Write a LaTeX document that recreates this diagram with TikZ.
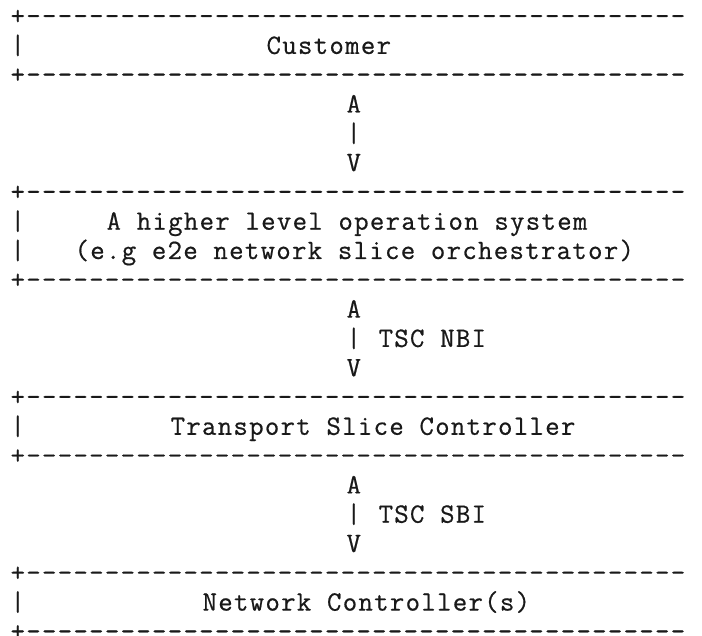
\documentclass[tikz,border=0pt]{standalone}
\usepackage{fontspec}
% typewriter face, spaced out to a 16pt character cell
\newfontfamily\asciifont{lmmono12-regular.otf}[LetterSpace=4.64,FakeBold=0.6]
\begin{document}
\begin{tikzpicture}[x=1pt,y=-1pt,
  ascii/.style={anchor=base west,inner sep=0pt,outer sep=0pt,text=black!90,
    font=\asciifont\fontsize{28}{29.3}\selectfont}]
% character grid: 16pt per column, 29.3pt per row
\newcommand{\cell}[4]{\node[ascii] (#1) at ({10.6+16*#2},{24.6+29.3*#3}) {#4};}
\def\dashrow{+------------------------------------------}
\useasboundingbox (0,0) rectangle (702,636);

% Customer
\cell{cTop}{0}{0}{\dashrow}
\cell{cBar}{0}{1}{|}
\cell{customer}{16}{1}{Customer}
\cell{cBot}{0}{2}{\dashrow}

% link Customer <-> operation system
\cell{aUp1}{21}{3}{A}
\cell{aMid1}{21}{4}{|}
\cell{aDn1}{21}{5}{V}

% higher level operation system
\cell{oTop}{0}{6}{\dashrow}
\cell{oBarA}{0}{7}{|}
\cell{oBarB}{0}{8}{|}
\cell{ops}{6}{7}{A higher level operation system}
\cell{opsNote}{4}{8}{(e.g e2e network slice orchestrator)}
\cell{oBot}{0}{9}{\dashrow}

% TSC NBI
\cell{aUp2}{21}{10}{A}
\cell{aMid2}{21}{11}{|}
\cell{nbi}{23}{11}{TSC NBI}
\cell{aDn2}{21}{12}{V}

% Transport Slice Controller
\cell{tTop}{0}{13}{\dashrow}
\cell{tBar}{0}{14}{|}
\cell{tsc}{10}{14}{Transport Slice Controller}
\cell{tBot}{0}{15}{\dashrow}

% TSC SBI
\cell{aUp3}{21}{16}{A}
\cell{aMid3}{21}{17}{|}
\cell{sbi}{23}{17}{TSC SBI}
\cell{aDn3}{21}{18}{V}

% Network Controller(s)
\cell{nTop}{0}{19}{\dashrow}
\cell{nBar}{0}{20}{|}
\cell{nc}{12}{20}{Network Controller(s)}
\cell{nBot}{0}{21}{\dashrow}
\end{tikzpicture}
\end{document}
